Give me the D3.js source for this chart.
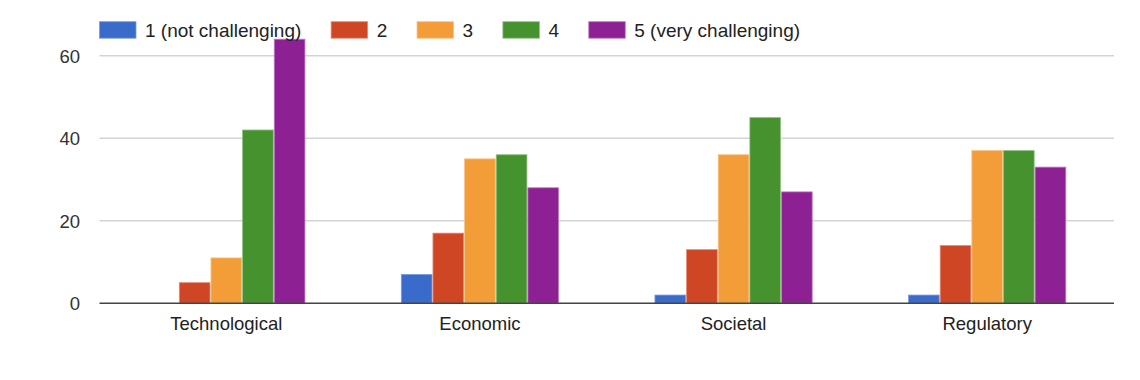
<!DOCTYPE html>
<html>
<head>
<meta charset="utf-8">
<script src="https://cdn.jsdelivr.net/npm/d3@7"></script>
<style>
  body { margin: 0; background: #fff; }
  text { font-family: "Liberation Sans", Arial, sans-serif; }
</style>
</head>
<body>
<div id="container"></div>
<script>

var width = 1140;
var height = 380;

var categories = ['Technological', 'Economic', 'Societal', 'Regulatory'];
var seriesNames = ['1 (not challenging)', '2', '3', '4', '5 (very challenging)'];
var seriesColors = ['#3b6bca', '#cf4625', '#f39d38', '#46922f', '#8d2093'];
var seriesStroke = ['#7c9be0', '#e58a75', '#f7c488', '#8fc27f', '#c27bc6'];

// one array per series, values in category order
var series1 = [0, 7, 2, 2];
var series2 = [5, 17, 13, 14];
var series3 = [11, 35, 36, 37];
var series4 = [42, 36, 45, 37];
var series5 = [64, 28, 27, 33];
var allSeries = [series1, series2, series3, series4, series5];

var yTicks = [0, 20, 40, 60];

var svg = d3.select('#container')
	.append('svg')
	.attr('width', width)
	.attr('height', height);

var x0 = d3.scaleBand()
	.domain(categories)
	.range([99.5, 1114])
	.padding(0);

var groupWidth = x0.bandwidth() * 0.62;

var x1 = d3.scaleBand()
	.domain(d3.range(seriesNames.length))
	.range([0, groupWidth])
	.paddingInner(0.03);

var y = d3.scaleLinear()
	.domain([0, 60])
	.range([303.3, 55.7]);

// gridlines
svg.selectAll('.grid')
	.data(yTicks.slice(1))
	.enter()
	.append('line')
	.attr('class', 'grid')
	.attr('x1', 99.5)
	.attr('x2', 1114)
	.attr('y1', function(d){return y(d);})
	.attr('y2', function(d){return y(d);})
	.style('stroke', '#d4d4d4')
	.style('stroke-width', 1.5);

// y axis labels
var yAxis = d3.axisLeft(y)
	.tickValues(yTicks)
	.tickSize(0)
	.tickPadding(19.5);

var yG = svg.append('g')
	.attr('transform', 'translate(99.5,0)')
	.call(yAxis);
yG.select('.domain').remove();
yG.selectAll('text')
	.style('font-size', '18.5px')
	.style('fill', '#333')
	.attr('dy', '0.35em');

// bars
var bars = [];
categories.forEach(function(c, ci){
	allSeries.forEach(function(s, si){
		bars.push({cat: c, si: si, value: s[ci]});
	});
});

svg.selectAll('.bar')
	.data(bars.filter(function(d){return d.value > 0;}))
	.enter()
	.append('rect')
	.attr('class', 'bar')
	.attr('x', function(d){return x0(d.cat) + (x0.bandwidth() - groupWidth) / 2 + x1(d.si);})
	.attr('y', function(d){return y(d.value);})
	.attr('width', x1.bandwidth())
	.attr('height', function(d){return y(0) - y(d.value);})
	.style('fill', function(d){return seriesColors[d.si];})
	.style('stroke', function(d){return seriesStroke[d.si];})
	.style('stroke-width', 0.8);

// baseline
svg.append('line')
	.attr('x1', 99.5)
	.attr('x2', 1114)
	.attr('y1', y(0))
	.attr('y2', y(0))
	.style('stroke', '#444')
	.style('stroke-width', 1.6);

// x axis labels
var xAxis = d3.axisBottom(x0)
	.tickSize(0)
	.tickPadding(14);

var xG = svg.append('g')
	.attr('transform', 'translate(0,' + y(0) + ')')
	.call(xAxis);
xG.select('.domain').remove();
xG.selectAll('text')
	.style('font-size', '18.5px')
	.style('fill', '#222');

// legend
var legend = svg.append('g').attr('class', 'legend');
var lx = 99.5;
seriesNames.forEach(function(name, i){
	legend.append('rect')
		.attr('x', lx)
		.attr('y', 21.7)
		.attr('width', 36.5)
		.attr('height', 16.5)
		.style('fill', seriesColors[i])
		.style('stroke', seriesStroke[i])
		.style('stroke-width', 0.8);
	var t = legend.append('text')
		.attr('x', lx + 45.5)
		.attr('y', 37.3)
		.style('font-size', '19px')
		.style('fill', '#222')
		.text(name);
	lx = lx + 45.5 + t.node().getComputedTextLength() + 29.8;
});

</script>
</body>
</html>
